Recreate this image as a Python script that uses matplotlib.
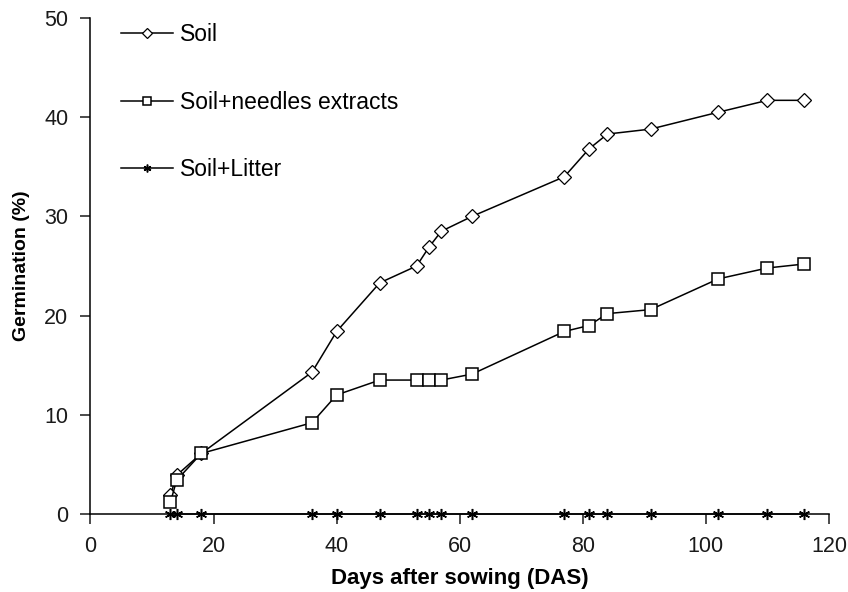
import matplotlib
matplotlib.use("Agg")
import matplotlib.pyplot as plt

plt.rcParams["font.family"] = ["Liberation Sans", "DejaVu Sans"]

# Days after sowing (DAS)
days = [13, 14, 18, 36, 40, 47, 53, 55, 57, 62, 77, 81, 84, 91, 102, 110, 116]

soil = [1.9, 3.9, 6.1, 14.3, 18.4, 23.3, 25.0, 26.9, 28.5, 30.0,
        34.0, 36.8, 38.3, 38.8, 40.5, 41.7, 41.7]
needles = [1.2, 3.4, 6.1, 9.2, 12.0, 13.5, 13.5, 13.5, 13.5, 14.1,
           18.4, 19.0, 20.2, 20.6, 23.7, 24.8, 25.2]
litter = [0.0] * len(days)

x_ticks = [0, 20, 40, 60, 80, 100, 120]
y_ticks = [0, 10, 20, 30, 40, 50]

fig = plt.figure(figsize=(8.48, 5.92), dpi=100)
ax = fig.add_axes([0.1067, 0.1318, 0.8709, 0.8378])

ax.plot(days, soil, color="black", linewidth=1.1, marker="D", markersize=7,
        markerfacecolor="white", markeredgecolor="black", markeredgewidth=0.9,
        label="Soil", clip_on=False)
ax.plot(days, needles, color="black", linewidth=1.1, marker="s", markersize=9,
        markerfacecolor="white", markeredgecolor="black", markeredgewidth=1.1,
        label="Soil+needles extracts", clip_on=False)
ax.plot(days, litter, color="black", linewidth=1.1, marker=(6, 2, 0), markersize=8,
        markeredgecolor="black", markeredgewidth=1.1,
        label="Soil+Litter", clip_on=False, zorder=3)

ax.set_xlim(0, 120)
ax.set_ylim(0, 50)
ax.set_xticks(x_ticks)
ax.set_yticks(y_ticks)
ax.tick_params(direction="out", length=7, width=1.1, labelsize=15.5,
               colors="#1a1a1a", pad=9)

for side in ["top", "right"]:
    ax.spines[side].set_visible(False)
for side in ["left", "bottom"]:
    ax.spines[side].set_linewidth(1.1)

ax.set_xlabel("Days after sowing (DAS)", fontsize=16, fontweight="bold", labelpad=8)
ax.set_ylabel("Germination (%)", fontsize=14, fontweight="bold", labelpad=10)

leg = ax.legend(loc="upper left", bbox_to_anchor=(0.042, 0.99), frameon=False,
                fontsize=16.5, labelspacing=1.95, handlelength=2.25,
                handletextpad=0.3, borderpad=0, borderaxespad=0,
                markerscale=0.7)

fig.savefig("out.png", dpi=100, facecolor="white")
